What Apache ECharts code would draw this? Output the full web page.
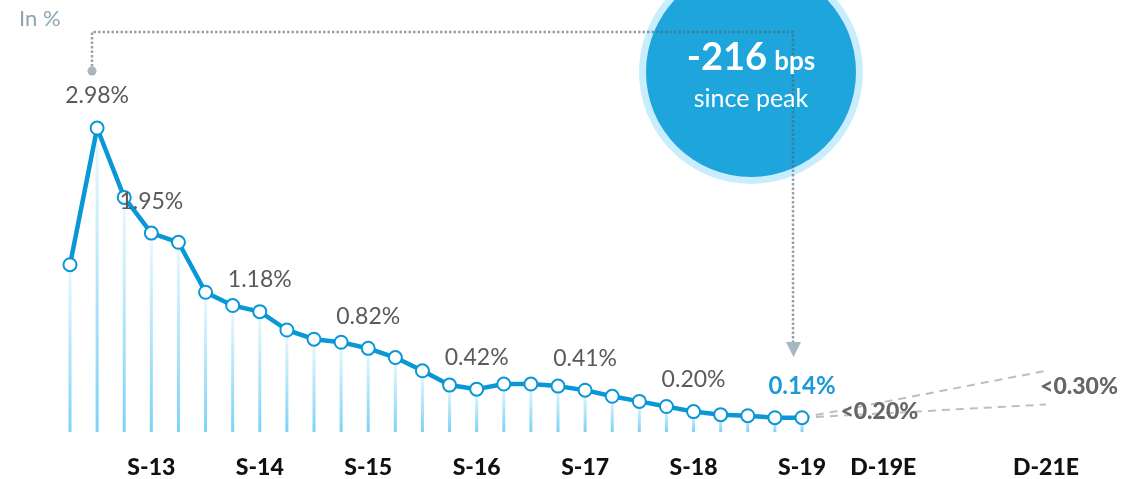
<!DOCTYPE html>
<html>
<head>
<meta charset="utf-8">
<script src="https://cdn.jsdelivr.net/npm/echarts@6/dist/echarts.min.js"></script>
<style>
  html, body { margin: 0; padding: 0; background: #ffffff; }
  #chart { width: 1122px; height: 479px; }
</style>
</head>
<body>
<div id="chart"></div>
<script>
// Quarterly history, Dec-12 to Sep-19
const quarters = ['D-12','M-13','J-13','S-13','D-13','M-14','J-14','S-14','D-14','M-15','J-15','S-15',
                  'D-15','M-16','J-16','S-16','D-16','M-17','J-17','S-17','D-17','M-18','J-18','S-18',
                  'D-18','M-19','J-19','S-19'];
// Outlook slots after the last actual quarter
const outlookSlots = ['o1','o2','D-19E','o4','o5','o6','o7','o8','D-21E'];
// Rate in %
const rates = [1.64, 2.98, 2.30, 1.95, 1.86, 1.37, 1.24, 1.18, 1.00, 0.91, 0.88, 0.82,
               0.73, 0.60, 0.46, 0.42, 0.47, 0.47, 0.45, 0.41, 0.35, 0.30, 0.25, 0.20,
               0.17, 0.16, 0.14, 0.14];
// Quarters whose value is written above the point
const labelledQuarters = ['M-13','S-13','S-14','S-15','S-16','S-17','S-18','S-19'];
// Tick labels shown on the x axis
const axisTicks = ['S-13','S-14','S-15','S-16','S-17','S-18','S-19','D-19E','D-21E'];
// Outlook band: [from, to] values, S-19 -> D-21E
const outlookUpper = [0.14, 0.60];
const outlookLower = [0.14, 0.27];
// Outlook captions
const outlookNotes = [
  { at: 'D-19E', value: 0.20, text: '<0.20%', dx: -4, dy: 0 },
  { at: 'D-21E', value: 0.30, text: '<0.30%', dx: 33, dy: -15 }
];

const categories = quarters.concat(outlookSlots);
const lastQ = quarters[quarters.length - 1];
const FONT = 'Lato, "Open Sans", sans-serif';
const LINE_BLUE = '#0a97d6';

const chart = echarts.init(document.getElementById('chart'), null, { renderer: 'canvas' });

const dropBars = rates.map(v => ({ value: v }));
const linePoints = rates.map((v, i) => {
  const q = quarters[i];
  if (!labelledQuarters.includes(q)) return { value: v };
  const isLast = q === lastQ;
  return {
    value: v,
    label: {
      show: true,
      position: 'top',
      distance: isLast ? 12 : 13,
      formatter: v.toFixed(2) + '%',
      fontFamily: FONT,
      fontSize: isLast ? 24 : 23,
      fontWeight: isLast ? 'bold' : 'normal',
      color: isLast ? '#1b9ad6' : '#5a5a5a'
    }
  };
});

const dashedStyle = { color: '#b7c1c7', width: 2, type: [8, 6] };

chart.setOption({
  animation: false,
  grid: { left: 70, right: 76, top: 75, bottom: 46.4 },
  xAxis: {
    type: 'category',
    data: categories,
    boundaryGap: false,
    axisLine: { show: false },
    axisTick: { show: false },
    splitLine: { show: false },
    axisLabel: {
      interval: 0,
      margin: 24,
      fontFamily: FONT,
      fontSize: 23,
      fontWeight: 900,
      color: '#111111',
      formatter: v => axisTicks.includes(v) ? v : ''
    }
  },
  yAxis: {
    type: 'value',
    min: 0,
    max: 3.5,
    show: false
  },
  series: [
    {
      type: 'bar',
      data: dropBars,
      barWidth: 3,
      z: 1,
      itemStyle: {
        color: new echarts.graphic.LinearGradient(0, 0, 0, 1, [
          { offset: 0, color: '#ecf9fe' },
          { offset: 1, color: '#7dd2f6' }
        ])
      },
      silent: true
    },
    {
      type: 'line',
      data: [[lastQ, outlookUpper[0]], ['D-21E', outlookUpper[1]]],
      symbol: 'none',
      lineStyle: dashedStyle,
      z: 2,
      silent: true
    },
    {
      type: 'line',
      data: [[lastQ, outlookLower[0]], ['D-21E', outlookLower[1]]],
      symbol: 'none',
      lineStyle: dashedStyle,
      z: 2,
      silent: true
    },
    {
      type: 'line',
      data: linePoints,
      symbol: 'circle',
      symbolSize: 13,
      showAllSymbol: true,
      lineStyle: { color: LINE_BLUE, width: 4.5 },
      itemStyle: { color: '#ffffff', borderColor: LINE_BLUE, borderWidth: 2 },
      z: 3,
      silent: true
    }
  ]
});

// Outlook captions, placed at their axis positions
const noteGraphics = outlookNotes.map(n => {
  const p = chart.convertToPixel({ gridIndex: 0 }, [n.at, n.value]);
  return {
    type: 'text',
    x: p[0] + n.dx, y: p[1] + n.dy,
    style: {
      text: n.text, align: 'center', verticalAlign: 'middle',
      font: '900 23px Lato, "Open Sans", sans-serif', fill: '#666666'
    },
    z: 12
  };
});

chart.setOption({
  graphic: [
    {
      type: 'text',
      left: 19, top: 8,
      style: { text: 'In %', fontFamily: FONT, fontSize: 22, fill: '#8ea5b5' }
    },
    { type: 'circle', shape: { cx: 751, cy: 72, r: 112 }, style: { fill: '#c8edfc' }, z: 10 },
    { type: 'circle', shape: { cx: 751, cy: 72, r: 105 }, style: { fill: '#1da5dc' }, z: 10 },
    {
      type: 'polyline',
      shape: { points: [[92, 71], [92, 32], [793, 32], [793, 342]] },
      style: { stroke: 'rgba(80,100,115,0.6)', lineWidth: 2.5, lineDash: [2.5, 2], fill: null },
      z: 11
    },
    { type: 'circle', shape: { cx: 92, cy: 71, r: 4.5 }, style: { fill: '#a9b6be' }, z: 11 },
    { type: 'polygon', shape: { points: [[786, 342], [801, 342], [793.5, 357]] }, style: { fill: '#a9b6be' }, z: 11 },
    {
      type: 'text',
      x: 751, y: 58,
      style: {
        text: '{a|-216} {b|bps}',
        align: 'center',
        verticalAlign: 'middle',
        rich: {
          a: { fontFamily: FONT, fontSize: 38, fontWeight: 'bold', fill: '#ffffff' },
          b: { fontFamily: FONT, fontSize: 26, fontWeight: 'bold', fill: '#ffffff', padding: [8, 0, 0, 4] }
        }
      },
      z: 12
    },
    {
      type: 'text',
      x: 751, y: 99,
      style: {
        text: 'since peak',
        align: 'center',
        verticalAlign: 'middle',
        fontFamily: FONT, fontSize: 25, fill: '#ffffff'
      },
      z: 12
    }
  ].concat(noteGraphics)
});
</script>
</body>
</html>
